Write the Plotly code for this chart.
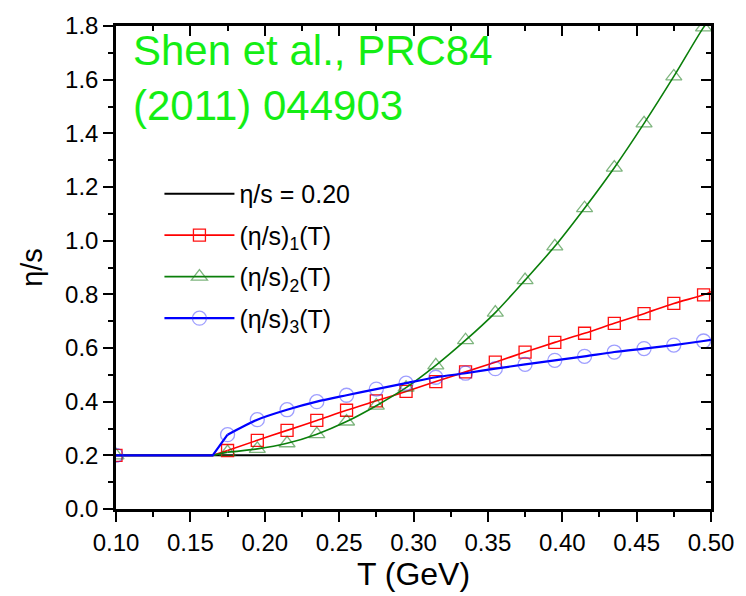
import plotly.graph_objects as go

# ---- data ----
T_marks = [0.175, 0.195, 0.215, 0.235, 0.255, 0.275, 0.295, 0.315, 0.335,
           0.355, 0.375, 0.395, 0.415, 0.435, 0.455, 0.475, 0.495]
eta1 = [0.218, 0.256, 0.293, 0.330, 0.368, 0.403, 0.438, 0.475, 0.511,
        0.547, 0.585, 0.621, 0.655, 0.692, 0.728, 0.766, 0.798]
eta2 = [0.212, 0.224, 0.245, 0.279, 0.326, 0.385, 0.452, 0.535, 0.629,
        0.732, 0.853, 0.979, 1.121, 1.272, 1.437, 1.612, 1.795]
eta3 = [0.277, 0.333, 0.370, 0.400, 0.424, 0.447, 0.469, 0.491, 0.506,
        0.523, 0.539, 0.554, 0.569, 0.585, 0.598, 0.611, 0.626]
T_end = 0.50
end_vals = [0.810, 1.830, 0.630]
T_min = 0.10
T_kink = 0.165
eta_const = 0.20

x_ticks = [0.10, 0.15, 0.20, 0.25, 0.30, 0.35, 0.40, 0.45, 0.50]
y_ticks = [0.0, 0.2, 0.4, 0.6, 0.8, 1.0, 1.2, 1.4, 1.6, 1.8]

names = ["(η/s)<sub>1</sub>(T)", "(η/s)<sub>2</sub>(T)", "(η/s)<sub>3</sub>(T)"]
line_colors = ["#ff0000", "#0a7f0a", "#0000ff"]
mark_colors = ["#ff1010", "rgba(20,120,20,0.55)", "rgba(40,40,255,0.45)"]
symbols = ["square-open", "triangle-up-open", "circle-open"]
msizes = [12, 14, 14]
lwidths = [1.6, 1.6, 2.2]

FONT = "Liberation Sans, Arial, sans-serif"

fig = go.Figure()

# constant eta/s
fig.add_trace(go.Scatter(x=[T_min, T_end], y=[eta_const, eta_const], mode="lines",
                         line=dict(color="black", width=2), name="η/s = 0.20",
                         legendgroup="g0"))

for i, (vals, endv, nm, lc, mc, sym, ms, lw) in enumerate(
        zip([eta1, eta2, eta3], end_vals, names, line_colors, mark_colors,
            symbols, msizes, lwidths)):
    grp = f"g{i + 1}"
    # flat part and steep start
    fig.add_trace(go.Scatter(x=[T_min, T_kink, T_marks[0]], y=[eta_const, eta_const, vals[0]],
                             mode="lines", line=dict(color=lc, width=lw),
                             showlegend=False, hoverinfo="skip", legendgroup=grp))
    # smooth curve
    fig.add_trace(go.Scatter(x=T_marks + [T_end], y=vals + [endv], mode="lines",
                             line=dict(color=lc, width=lw, shape="spline", smoothing=0.8),
                             showlegend=False, hoverinfo="skip", legendgroup=grp))
    # markers
    fig.add_trace(go.Scatter(x=[T_min] + T_marks, y=[eta_const] + vals, mode="markers",
                             marker=dict(symbol=sym, size=ms, color=mc,
                                         line=dict(color=mc, width=1.3)),
                             showlegend=False, legendgroup=grp))
    # legend proxy
    fig.add_trace(go.Scatter(x=[None], y=[None], mode="lines+markers", name=nm,
                             line=dict(color=lc, width=lw), legendgroup=grp,
                             marker=dict(symbol=sym, size=ms, color=mc,
                                         line=dict(color=mc, width=1.3))))

axis_common = dict(showline=True, linewidth=2.5, linecolor="black", showgrid=False,
                   zeroline=False, tickwidth=2, tickcolor="black")

fig.update_layout(
    width=746, height=596,
    margin=dict(l=116, r=28, t=16, b=82),
    plot_bgcolor="white", paper_bgcolor="white",
    font=dict(family=FONT, color="black", size=24),
    xaxis=dict(range=[T_min, T_end], tickvals=x_ticks,
               ticktext=[f"{v:.2f}" for v in x_ticks],
               ticks="outside", ticklen=10,
               minor=dict(dtick=0.025, tick0=0.1, ticks="outside", ticklen=5,
                          tickwidth=2, tickcolor="black"),
               tickfont=dict(size=24),
               title=dict(text="T (GeV)", font=dict(size=32), standoff=6),
               **axis_common),
    yaxis=dict(range=[0, 1.8], tickvals=y_ticks,
               ticktext=[f"{v:.1f}" for v in y_ticks],
               ticks="outside", ticklen=10,
               minor=dict(dtick=0.1, tick0=0, ticks="outside", ticklen=5,
                          tickwidth=2, tickcolor="black"),
               tickfont=dict(size=24),
               title=dict(text="η/s", font=dict(size=29), standoff=14),
               **axis_common),
    xaxis2=dict(range=[T_min, T_end], overlaying="x", side="top", tickvals=x_ticks,
                showticklabels=False, ticks="inside", ticklen=10,
                minor=dict(dtick=0.025, tick0=0.1, ticks="inside", ticklen=5,
                           tickwidth=2, tickcolor="black"),
                **axis_common),
    yaxis2=dict(range=[0, 1.8], overlaying="y", side="right", tickvals=y_ticks,
                showticklabels=False, ticks="inside", ticklen=10,
                minor=dict(dtick=0.1, tick0=0, ticks="inside", ticklen=5,
                           tickwidth=2, tickcolor="black"),
                **axis_common),
    legend=dict(x=0.073, y=0.70, xanchor="left", yanchor="top",
                bgcolor="rgba(0,0,0,0)", font=dict(size=25), itemwidth=70,
                tracegroupgap=6, traceorder="grouped"),
    showlegend=True,
)

fig.add_annotation(x=0.026, y=1.003, xref="paper", yref="paper", xanchor="left",
                   yanchor="top", showarrow=False, align="left",
                   text="Shen et al., PRC84<br>(2011) 044903",
                   font=dict(size=42, color="#14ee14", family=FONT))

# dummy traces to activate overlay axes
fig.add_trace(go.Scatter(x=[None], y=[None], xaxis="x2", yaxis="y2", showlegend=False))

fig.write_html("out.html")
